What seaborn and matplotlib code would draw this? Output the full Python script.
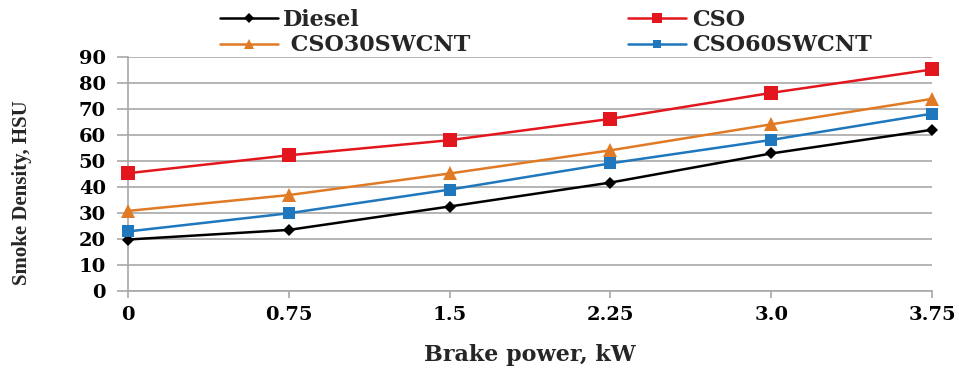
import matplotlib
matplotlib.use("Agg")
import matplotlib.pyplot as plt
import seaborn as sns
import pandas as pd

power = [0, 0.75, 1.5, 2.25, 3.0, 3.75]
power_labels = ["0", "0.75", "1.5", "2.25", "3.0", "3.75"]
diesel = [19.8, 23.5, 32.5, 41.7, 52.9, 62.0]
cso = [45.3, 52.2, 58.0, 66.2, 76.2, 85.2]
cso30 = [30.8, 36.9, 45.2, 54.1, 64.1, 73.9]
cso60 = [22.9, 29.9, 39.0, 49.1, 58.1, 68.2]
series_names = ["Diesel", "CSO", "CSO30SWCNT", "CSO60SWCNT"]
legend_labels = ["Diesel", "CSO", " CSO30SWCNT", "CSO60SWCNT"]
yticks = [0, 10, 20, 30, 40, 50, 60, 70, 80, 90]

df = pd.DataFrame({
    "power": power * 4,
    "value": diesel + cso + cso30 + cso60,
    "series": sum([[n] * len(power) for n in series_names], []),
})

sns.set_theme(style="white")
plt.rcParams["font.family"] = ["DejaVu Serif"]
plt.rcParams["font.weight"] = "bold"

W, H = 959, 368
fig = plt.figure(figsize=(9.59, 3.68), dpi=100)
ax = fig.add_axes([128 / W, 1 - 291 / H, (932 - 128) / W, (291 - 57) / H])

palette = {"Diesel": "#000000", "CSO": "#e3161d", "CSO30SWCNT": "#e07a25", "CSO60SWCNT": "#1f77bd"}
markers = {"Diesel": "D", "CSO": "s", "CSO30SWCNT": "^", "CSO60SWCNT": "s"}
sizes_m = {"Diesel": 6.5, "CSO": 10, "CSO30SWCNT": 10, "CSO60SWCNT": 8.5}

for name in series_names:
    sub = df[df["series"] == name]
    sns.lineplot(data=sub, x="power", y="value", color=palette[name], marker=markers[name],
                 markersize=sizes_m[name], markeredgewidth=0, linewidth=1.8, ax=ax,
                 label=name, clip_on=False, zorder=3)

grey = "#a8a8a8"
ax.set_xlim(0, 3.75)
ax.set_ylim(0, 90)
ax.set_yticks(yticks)
ax.set_yticklabels([str(v) for v in yticks])
ax.set_xticks(power)
ax.set_xticklabels(power_labels)
ax.grid(axis="y", color=grey, linewidth=1.2)
ax.grid(axis="x", visible=False)
for s in ["top", "right"]:
    ax.spines[s].set_visible(False)
for s in ["left", "bottom"]:
    ax.spines[s].set_color(grey)
    ax.spines[s].set_linewidth(1.2)
ax.tick_params(axis="y", which="major", length=8, width=1.2, color=grey, left=True,
               labelsize=14, pad=8, labelcolor="black")
ax.tick_params(axis="x", which="major", length=5, width=1.2, color=grey, bottom=True,
               labelsize=14, pad=6, labelcolor="black")
for lab in ax.get_xticklabels() + ax.get_yticklabels():
    lab.set_fontweight("bold")

ax.set_xlabel("")
ax.set_ylabel("")
fig.text(530 / W, 1 - 355 / H, "Brake power, kW", ha="center", va="center",
         fontsize=16, fontweight="bold", family="DejaVu Serif")
fig.text(22 / W, 1 - 193 / H, "Smoke Density, HSU", ha="center", va="center", rotation=90,
         fontsize=15, fontweight="bold", family="Liberation Serif")

handles, labels = ax.get_legend_handles_labels()
ax.get_legend().remove()
order = [0, 2, 1, 3]
fig.legend([handles[i] for i in order], [legend_labels[i] for i in order], ncol=2,
           loc="upper left", bbox_to_anchor=(220 / W, 1 - 9 / H), frameon=False,
           prop={"family": "DejaVu Serif", "weight": "bold", "size": 16},
           columnspacing=7.1, handlelength=2.6, handletextpad=0.25, labelspacing=0.15,
           borderaxespad=0, borderpad=0, markerscale=0.75)

fig.savefig("out.png", dpi=100)
